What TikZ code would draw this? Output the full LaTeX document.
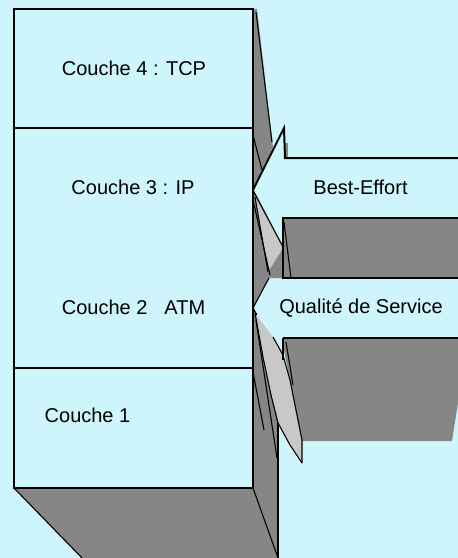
\documentclass[tikz,border=0pt]{standalone}
\usepackage{fontspec}
\setmainfont{Liberation Sans}
\definecolor{bgcyan}{RGB}{207,245,252}
\definecolor{darkgrey}{RGB}{134,134,134}
\definecolor{lightgrey}{RGB}{200,200,200}
\begin{document}
\begin{tikzpicture}[x=1pt,y=-1pt,
  edge/.style={line width=2pt, line join=miter},
  fine/.style={line width=1.1pt},
  lbl/.style={anchor=base, inner sep=0pt, font=\fontsize{20}{24}\selectfont}]
\fill[bgcyan] (0,0) rectangle (458,558);
\useasboundingbox (0,0) rectangle (458,558);

% bottom face and right depth strip
\fill[darkgrey] (14,488) -- (253,488) -- (278,558) -- (82,558) -- cycle;
\fill[darkgrey] (253,300) -- (255,313) -- (263,357) -- (271,395) -- (278,423) -- (278,558) -- (253,558) -- cycle;
% top depth triangle
\fill[darkgrey] (253,9) -- (257,9) -- (273,147) -- (253,190) -- cycle;
% side of Best-Effort arrowhead
\fill[darkgrey] (253,190) -- (283,248) -- (283,278) -- (269,278) -- (253,308) -- cycle;
\fill[lightgrey] (255,197) .. controls (261,235) .. (268,272) -- (283,248) -- cycle;
% Best-Effort shaft side
\fill[darkgrey] (283,218) rectangle (458,278);
\fill[darkgrey] (285,143) rectangle (288,158);
% QoS shaft side
\fill[darkgrey] (283,338) -- (458,338) -- (458,403) -- (452,441) -- (302,441) -- (298,420) -- (290,380) -- (284,350) -- cycle;
% QoS sliver
\fill[lightgrey] (255,313) -- (263,357) -- (271,395) -- (278,423) -- (290,445) -- (302,463)
  -- (302,440) -- (298,420) -- (290,380) -- (283,355) -- (273,337) -- cycle;

% inner dark lines
\draw[fine] (253,488) -- (278,558);
\draw[fine] (14,488) -- (82,558);
\draw[fine] (278,423) -- (278,558);
\draw[fine] (256,320) -- (277,458);
\draw[fine] (253,372) -- (264,430);
\draw[fine] (256,12) -- (272,142);
\draw[fine] (253,135) -- (262,170);
\draw[fine] (255,197) .. controls (261,235) .. (268,272);
\draw[fine] (253,200) -- (270,275);
\draw[fine] (284,222) -- (291,278);
\draw[fine] (255,313) -- (263,357) -- (271,395) -- (278,423) -- (290,445) -- (302,463);
\draw[fine] (273,337) -- (283,355) -- (290,380) -- (298,420) -- (302,440) -- (302,463);
\draw[fine] (286,342) -- (293,385);
\draw[fine] (253,308) -- (269,278);

% layer box
\draw[edge] (14,9) rectangle (253,488);
\draw[edge] (14,128) -- (253,128);
\draw[edge] (14,368) -- (253,368);

% Best-Effort arrow
\draw[edge] (458,158) -- (285,158) -- (284,128) -- (253,190);
\draw[fine] (253,190) -- (283,247);
\draw[edge] (458,218) -- (283,218) -- (283,278) -- (458,278);
% QoS arrow
\draw[edge] (458,338) -- (283,338);
\draw[fine] (283,338) -- (283,360);
\draw[fine] (253,308) -- (257,315);

% labels
\node[lbl] (c4) at (134,75) {Couche 4 : TCP};
\node[lbl] (c3) at (133,194) {Couche 3 : IP};
\node[lbl] (c2) at (133.5,314) {Couche 2\hspace{17pt}ATM};
\node[lbl] (c1) at (87.5,422) {Couche 1};
\node[lbl] (be) at (360.5,194) {Best-Effort};
\node[lbl] (qos) at (361,313) {Qualité de Service};
\end{tikzpicture}
\end{document}
